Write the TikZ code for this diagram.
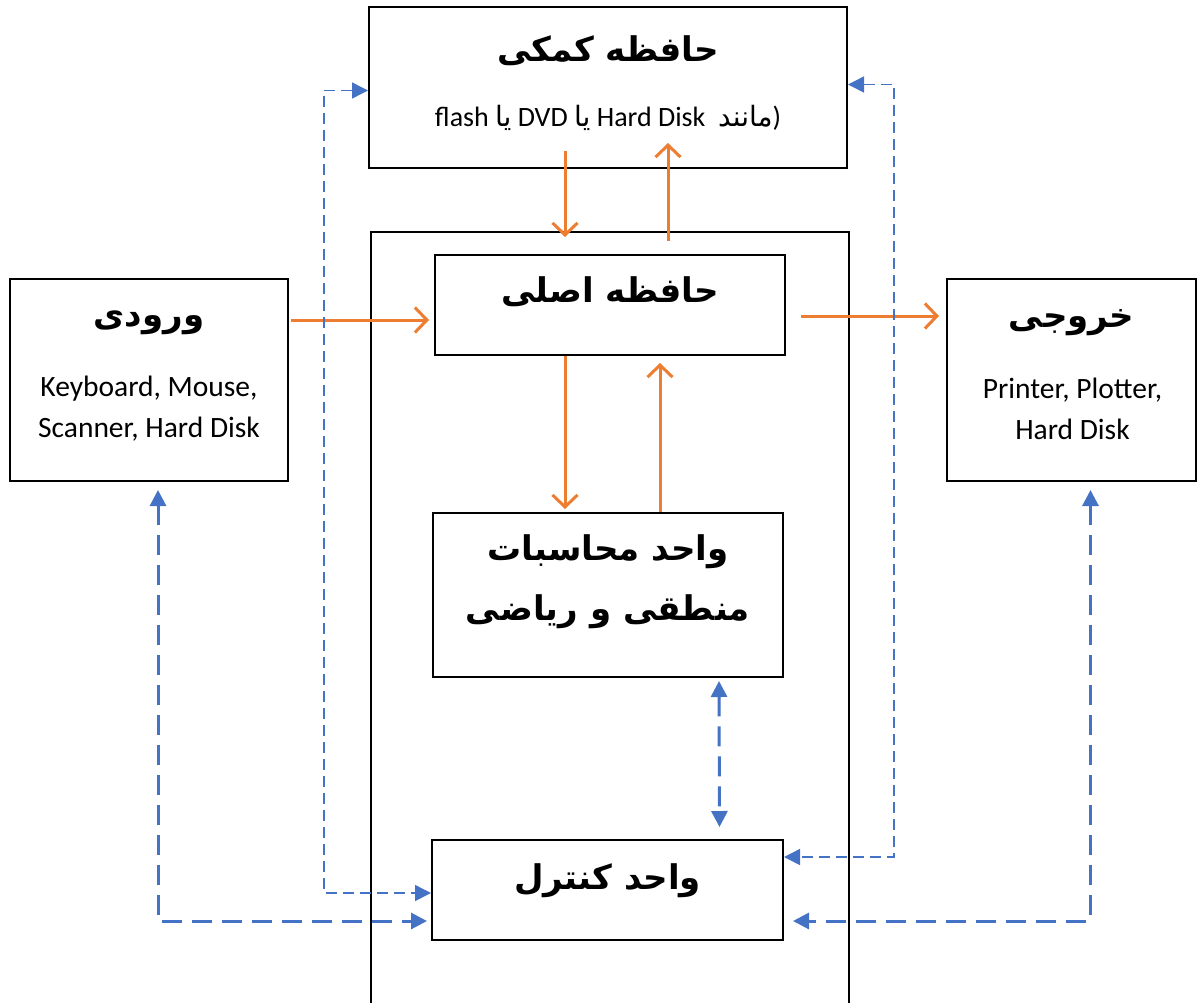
\documentclass[tikz,border=0pt]{standalone}
\usepackage{fontspec}
\setmainfont{Carlito}
\newfontfamily\fa[Script=Arabic]{DejaVu Sans}
\TeXXeTstate=1
\usetikzlibrary{arrows.meta,calc}
\definecolor{pfeilorange}{HTML}{ED7D31}
\definecolor{pfeilblau}{HTML}{4472C4}

\begin{document}
\begin{tikzpicture}[x=1pt,y=-1pt,
    kasten/.style={draw,line width=2pt,inner sep=0pt},
    titel/.style={font={\fa\bfseries\fontsize{34}{60}\selectfont},align=center},
    geraet/.style={font={\fontsize{29.5}{41}\selectfont},align=center},
    daten/.style={line width=3pt,pfeilorange,-{Straight Barb[length=12pt,width=25pt,line width=3pt]}},
    signal/.style={line width=3pt,pfeilblau,dash pattern=on 20pt off 10pt,{Triangle[length=16pt,width=16pt]}-{Triangle[length=16pt,width=16pt]}},
    signalfein/.style={line width=1.5pt,pfeilblau,dash pattern=on 11pt off 6pt,{Triangle[length=16pt,width=16pt]}-{Triangle[length=16pt,width=16pt]}}]

    \useasboundingbox (0,0) rectangle (1200,1002);

    % Kästen
    \node[kasten,minimum width=478pt,minimum height=800pt,anchor=north] (cpu) at (610,231) {};
    \node[kasten,minimum width=478pt,minimum height=161pt] (sek) at (608,87.5) {};
    \node[kasten,minimum width=350pt,minimum height=100pt] (haupt) at (610,305) {};
    \node[kasten,minimum width=278pt,minimum height=202pt] (ein) at (149,380) {};
    \node[kasten,minimum width=249pt,minimum height=202pt] (aus) at (1071.5,380) {};
    \node[kasten,minimum width=350pt,minimum height=164pt] (alu) at (608,595) {};
    \node[kasten,minimum width=351pt,minimum height=100pt] (kontroll) at (607.5,890) {};

    % Beschriftungen
    \node[titel] (sekT) at ($(sek)+(0,-37)$) {\beginR حافظه کمکی\endR};
    \node[geraet,font={\fontsize{28}{36}\selectfont}] (sekU) at ($(sek)+(0,30)$)
        {flash {\fa\beginR یا\endR} DVD {\fa\beginR یا\endR} Hard Disk\ \ {\fa\beginR مانند\endR})};
    \node[titel] (hauptT) at ($(haupt)+(0,-13)$) {\beginR حافظه اصلی\endR};
    \node[titel] (einT) at ($(ein)+(0,-57)$) {\beginR ورودی\endR};
    \node[geraet] (einG) at ($(ein)+(0,29)$) {Keyboard, Mouse,\\Scanner, Hard Disk};
    \node[titel] (ausT) at ($(aus)+(0,-57)$) {\beginR خروجی\endR};
    \node[geraet] (ausG) at ($(aus)+(1,29)$) {Printer, Plotter,\\Hard Disk};
    \node[titel] (aluT) at ($(alu)+(0,-13)$) {\beginR واحد محاسبات\endR\\\beginR منطقی و ریاضی\endR};
    \node[titel] (kontrollT) at ($(kontroll)+(0,-9)$) {\beginR واحد کنترل\endR};

    % Datenfluss
    \draw[daten] ($(sek.south)+(-43,-18)$) -- ($(haupt.north)+(-45,-17)$);
    \draw[daten] ($(haupt.north)+(58,-13)$) -- ($(sek.south)+(60,-26)$);
    \draw[daten] ($(ein.east)+(2,-60)$) -- ($(haupt.west)+(-5,15)$);
    \draw[daten] ($(haupt.east)+(15,11)$) -- ($(aus.west)+(-7,-64)$);
    \draw[daten] ($(haupt.south)+(-45,0)$) -- ($(alu.north)+(-43,-3)$);
    \draw[daten] ($(alu.north)+(52,0)$) -- ($(haupt.south)+(50,7)$);

    % Steuersignale
    \draw[signalfein] ($(sek.west)+(0,3)$) -- ++(-44,0) |- ($(kontroll.west)+(0,3)$);
    \draw[signalfein] ($(sek.east)+(0,-3)$) -- ++(46,0) |- ($(kontroll.east)+(0,-33)$);
    \draw[signal] ($(ein.south)+(9,8)$) |- ($(kontroll.west)+(-4,31)$);
    \draw[signal] ($(aus.south)+(19,8)$) |- ($(kontroll.east)+(9,31)$);
    \draw[signal] ($(alu.south)+(111,3)$) -- ($(kontroll.north)+(112,-12)$);
\end{tikzpicture}
\end{document}
